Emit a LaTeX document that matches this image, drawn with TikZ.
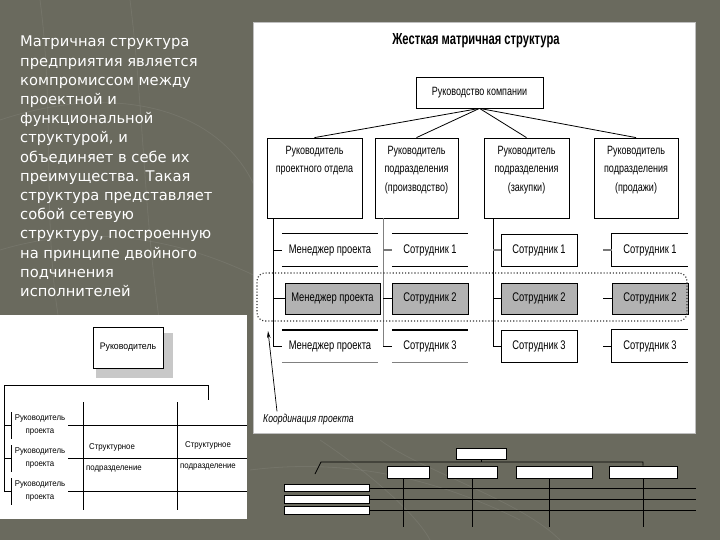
\documentclass[tikz,border=0pt]{standalone}
\usepackage{fontspec}
\setmainfont{DejaVu Sans}
\newfontfamily\nar[FakeStretch=0.75]{Liberation Sans}
\newfontfamily\narb[FakeStretch=0.7]{Liberation Sans Bold}
\newfontfamily\lsans[FakeStretch=0.92]{Liberation Sans}
\usetikzlibrary{arrows.meta}
\definecolor{bgc}{RGB}{106,106,94}
\definecolor{cellgray}{RGB}{178,178,178}
\definecolor{shadowgray}{RGB}{200,200,200}
\definecolor{tickgray}{RGB}{120,120,120}
\tikzset{
  pnl/.style={fill=white},
  hbox/.style={draw=black, line width=0.8pt, fill=white, inner sep=0pt},
  htext/.style={font=\nar\fontsize{12}{18.5}\selectfont, align=center, inner sep=0pt, anchor=north},
  ctext/.style={font=\nar\fontsize{12.5}{14}\selectfont, inner sep=0pt},
  cell/.style={inner sep=0pt, minimum width=#1, minimum height=32},
  graycell/.style={draw=black, line width=0.7pt, fill=cellgray, inner sep=0pt, minimum width=#1, minimum height=31},
  fullcell/.style={draw=black, line width=0.8pt, fill=white, inner sep=0pt, minimum width=#1, minimum height=32},
  thin/.style={draw=black, line width=0.7pt},
  gtick/.style={draw=tickgray, line width=2.5pt},
  ltext/.style={font=\lsans\fontsize{8.5}{13.5}\selectfont, inner sep=0pt, align=center},
  dbox/.style={draw=black, line width=0.8pt, fill=white, inner sep=0pt},
  dline/.style={draw=black, line width=0.7pt}
}
\begin{document}
\begin{tikzpicture}[x=1pt,y=-1pt]
\useasboundingbox (0,0) rectangle (720,540);
\fill[bgc] (0,0) rectangle (720,540);
% faint texture
\begin{scope}[draw=white, opacity=0.07, line width=0.8pt]
  \draw (0,120) .. controls (120,80) and (230,110) .. (260,200);
  \draw (40,0) .. controls (60,150) and (30,300) .. (90,420);
  \draw (130,0) .. controls (150,160) and (140,300) .. (200,520);
  \draw (0,250) .. controls (100,220) and (200,240) .. (300,300);
  \draw (320,440) .. controls (380,480) and (420,520) .. (430,540);
  \draw (380,440) .. controls (420,470) and (520,500) .. (560,540);
  \draw (250,470) .. controls (330,460) and (420,470) .. (520,520);
\end{scope}

% ---------- left text ----------
\foreach \t [count=\i] in {Матричная структура, предприятия является, компромиссом между, проектной и, функциональной, {структурой, и}, объединяет в себе их, преимущества. Такая, структура представляет, собой сетевую, {структуру, построенную}, на принципе двойного, подчинения, исполнителей}
  \node[anchor=base west, text=white, inner sep=0pt, font=\fontsize{14.7}{16}\selectfont] (l\i) at (20,{47+(\i-1)*19.2}) {\t};

% ---------- right panel ----------
\fill[pnl, draw=gray!50, line width=0.5pt] (253,22) rectangle (695,433);
\node[font=\narb\fontsize{16}{18}\selectfont, inner sep=0pt] (title) at (476,41) {Жесткая матричная структура};

\node[hbox, minimum width=127, minimum height=31, font=\nar\fontsize{12}{14}\selectfont] (top) at (479.5,92.5) {Руководство компании};

\node[hbox, minimum width=95, minimum height=80] (b1) at (314.5,178) {};
\node[hbox, minimum width=83, minimum height=80] (b2) at (416.5,178) {};
\node[hbox, minimum width=85, minimum height=80] (b3) at (526.5,178) {};
\node[hbox, minimum width=84, minimum height=80] (b4) at (636,178) {};
\node[htext] (b1t) at (314.5,146) {Руководитель\\проектного отдела};
\node[htext] (b2t) at (416.5,146) {Руководитель\\подразделения\\(производство)};
\node[htext] (b3t) at (526.5,146) {Руководитель\\подразделения\\(закупки)};
\node[htext] (b4t) at (636,146) {Руководитель\\подразделения\\(продажи)};

\foreach \b in {b1,b2,b3,b4}
  \draw[line width=0.8pt] (top.south) -- (\b.north);

% cells
\node[cell=96, ctext] (m1) at (330,250) {Менеджер проекта};
\node[graycell=95, ctext] (m2) at (332.5,298.5) {Менеджер проекта};
\node[cell=96, ctext] (m3) at (330,346) {Менеджер проекта};
\node[cell=76, ctext] (s21) at (430,250) {Сотрудник 1};
\node[graycell=76, ctext] (s22) at (430,298.5) {Сотрудник 2};
\node[cell=76, ctext] (s23) at (430,346) {Сотрудник 3};
\node[fullcell=76, ctext] (s31) at (539,250) {Сотрудник 1};
\node[graycell=76, ctext] (s32) at (539,298.5) {Сотрудник 2};
\node[fullcell=76, ctext] (s33) at (539,346) {Сотрудник 3};
\node[cell=76, ctext] (s41) at (650,250) {Сотрудник 1};
\node[graycell=76, ctext] (s42) at (650,298.5) {Сотрудник 2};
\node[cell=76, ctext] (s43) at (650,346) {Сотрудник 3};

\foreach \c in {m1,s21}
  \draw[thin] (\c.north west) -- (\c.north east) (\c.south west) -- (\c.south east);
\foreach \c in {m3,s23}{
  \draw[draw=black, line width=1.6pt] (\c.north west) -- (\c.north east);
  \draw[draw=gray, line width=0.7pt] (\c.south west) -- (\c.south east);
}
\foreach \c in {s41,s43}
  \draw[thin] (\c.north east) -- (\c.north west) -- (\c.south west) -- (\c.south east);

% verticals and ticks
\coordinate (v1) at (273,346);
\coordinate (v2) at (383,346);
\coordinate (v3) at (493,346);
\coordinate (v4) at (603,346);
\draw[thin] (v1 |- b1.south) -- (v1);
\draw[draw=gray, line width=0.8pt] (v2 |- b2.south) -- (v2);
\draw[thin] (v3 |- b3.south) -- (v3);
\draw[thin] (v1 |- m1.west) -- (m1.west);
\draw[gtick] (v2 |- s21.west) -- (s21.west);
\draw[gtick] (v3 |- s31.west) -- (s31.west);
\draw[gtick] (v4 |- s41.west) -- (s41.west);
\draw[thin] (v1 |- m2.west) -- (m2.west);
\draw[thin] (v2 |- s22.west) -- (s22.west);
\draw[thin] (v3 |- s32.west) -- (s32.west);
\draw[thin] (v4 |- s42.west) -- (s42.west);
\draw[thin] (v1 |- m3.west) -- (m3.west);
\draw[thin] (v2 |- s23.west) -- (s23.west);
\draw[thin] (v3 |- s33.west) -- (s33.west);
\draw[thin] (v4 |- s43.west) -- (s43.west);

% dotted coordination frame
\node[draw=black!80, dotted, line width=1.1pt, rounded corners=8pt, minimum width=430, minimum height=48, inner sep=0pt] (coord) at (472,297) {};

% coordination label and arrow
\node[font=\nar\itshape\fontsize{11.5}{13}\selectfont, inner sep=0pt, anchor=west] (lab) at (263,420) {Координация проекта};
\coordinate (ah) at (268,331);
\draw[line width=0.7pt, -{Stealth[length=7pt,width=3.5pt]}] (lab.north west) ++(14,-3) -- (ah);

% ---------- lower left panel ----------
\fill[pnl] (0,315) rectangle (247,519);
\fill[shadowgray] (96,333) rectangle (173,378);
\node[dbox, minimum width=70, minimum height=41, font=\lsans\fontsize{9.5}{11}\selectfont] (ruk) at (128,347.5) {Руководитель};

\coordinate (hl) at (4,385);
\coordinate (hr) at (208,385);
\draw[dline] (4,492) -- (hl) -- (hr) -- (208,400);
\foreach \y/\n in {425/1,458/2,491/3}{
  \node[ltext] (rp\n) at (40,\y) {Руководитель\\проекта};
  \draw[dline] (4,\y) -- (11,\y);
  \draw[dline] (11,\y-13) -- (11,\y+14);
  \draw[dline] (rp\n.east) ++(3,0) -- (247,\y);
}
\draw[dline] (83,402) -- (83,510);
\draw[dline] (177,402) -- (177,510);
\node[font=\lsans\fontsize{8.5}{10}\selectfont, inner sep=0pt] (su1a) at (112,447) {Структурное};
\node[font=\lsans\fontsize{8.5}{10}\selectfont, inner sep=0pt] (su1b) at (114,469) {подразделение};
\node[font=\lsans\fontsize{8.5}{10}\selectfont, inner sep=0pt] (su2a) at (208,445) {Структурное};
\node[font=\lsans\fontsize{8.5}{10}\selectfont, inner sep=0pt] (su2b) at (208,467) {подразделение};

% ---------- bottom right decorative scheme ----------
\node[dbox, minimum width=50, minimum height=11] (t0) at (481,453.5) {};
\node[dbox, minimum width=42, minimum height=12] (t1) at (408,472) {};
\node[dbox, minimum width=50, minimum height=12] (t2) at (472,472) {};
\node[dbox, minimum width=76, minimum height=12] (t3) at (554,472) {};
\node[dbox, minimum width=68, minimum height=12] (t4) at (643,472) {};
\node[dbox, minimum width=85, minimum height=7.5] (p1) at (326.5,488) {};
\node[dbox, minimum width=85, minimum height=7.5] (p2) at (326.5,499.5) {};
\node[dbox, minimum width=85, minimum height=7.5] (p3) at (326.5,510.5) {};
\coordinate (jl) at (321,462);
\coordinate (jr) at (643,462);
\coordinate (js) at (315,474);
\draw[dline] (t0.south) -- (t0.south |- jl);
\draw[dline] (js) -- (jl) -- (jr) -- (t4.north);
\foreach \p in {p1,p2,p3}
  \draw[dline] (\p.east) -- (696,0 |- \p.east);
\foreach \x/\t in {403/t1,472/t2,549/t3,643/t4}
  \draw[dline] (\x,0 |- \t.south) -- (\x,527);
\end{tikzpicture}
\end{document}
